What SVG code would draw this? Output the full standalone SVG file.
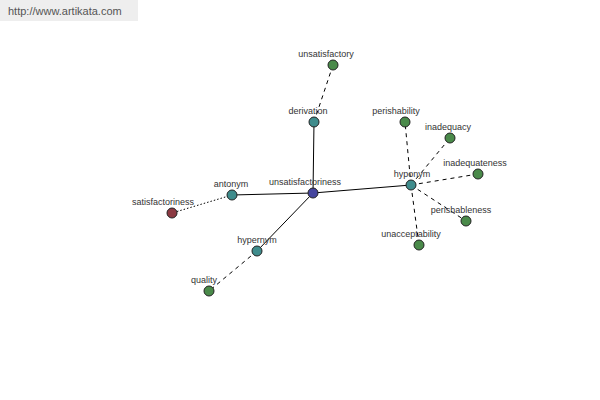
<svg xmlns="http://www.w3.org/2000/svg" width="600" height="400" viewBox="0 0 600 400">
<style>
.lbl{font-family:"Liberation Sans",Arial,sans-serif;font-size:9px;fill:#333;text-anchor:middle}
.n{stroke:#222;stroke-width:1}
.teal{fill:#3f8c8c}
.green{fill:#4a8a4a}
.solid{stroke:#000;stroke-width:1;fill:none}
.dash{stroke:#000;stroke-width:1;fill:none;stroke-dasharray:4,4}
.dot{stroke:#000;stroke-width:1;fill:none;stroke-dasharray:1.5,2}
</style>
<rect x="0" y="0" width="600" height="400" fill="#fff"/>
<rect x="0" y="0" width="138" height="21" fill="#eeeeee"/>
<text x="8" y="15" font-family="Liberation Sans,Arial,sans-serif" font-size="11" fill="#555">http://www.artikata.com</text>
<g id="connectors">
<line class="solid" x1="313" y1="193" x2="232" y2="195"/>
<line class="solid" x1="313" y1="193" x2="314" y2="122"/>
<line class="solid" x1="313" y1="193" x2="411" y2="185"/>
<line class="solid" x1="313" y1="193" x2="257" y2="251"/>
<line class="dot" x1="232" y1="195" x2="172" y2="213"/>
<line class="dash" x1="314" y1="122" x2="333" y2="65"/>
<line class="dash" x1="257" y1="251" x2="209" y2="291"/>
<line class="dash" x1="411" y1="185" x2="405" y2="122"/>
<line class="dash" x1="411" y1="185" x2="450" y2="138"/>
<line class="dash" x1="411" y1="185" x2="478" y2="174"/>
<line class="dash" x1="411" y1="185" x2="466" y2="221"/>
<line class="dash" x1="411" y1="185" x2="419" y2="245"/>
</g>
<g id="n-unsatisfactoriness"><circle class="n" cx="313" cy="193" r="5" fill="#45459e"/><text class="lbl" x="305" y="185">unsatisfactoriness</text></g>
<g id="n-antonym"><circle class="n teal" cx="232" cy="195" r="5"/><text class="lbl" x="231" y="187">antonym</text></g>
<g id="n-satisfactoriness"><circle class="n" cx="172" cy="213" r="5" fill="#8c3a42"/><text class="lbl" x="163" y="205">satisfactoriness</text></g>
<g id="n-derivation"><circle class="n teal" cx="314" cy="122" r="5"/><text class="lbl" x="308" y="114">derivation</text></g>
<g id="n-unsatisfactory"><circle class="n green" cx="333" cy="65" r="5"/><text class="lbl" x="326" y="57">unsatisfactory</text></g>
<g id="n-hyponym"><circle class="n teal" cx="411" cy="185" r="5"/><text class="lbl" x="412" y="177">hyponym</text></g>
<g id="n-perishability"><circle class="n green" cx="405" cy="122" r="5"/><text class="lbl" x="396" y="114">perishability</text></g>
<g id="n-inadequacy"><circle class="n green" cx="450" cy="138" r="5"/><text class="lbl" x="448" y="130">inadequacy</text></g>
<g id="n-inadequateness"><circle class="n green" cx="478" cy="174" r="5"/><text class="lbl" x="475" y="166">inadequateness</text></g>
<g id="n-perishableness"><circle class="n green" cx="466" cy="221" r="5"/><text class="lbl" x="461" y="213">perishableness</text></g>
<g id="n-unacceptability"><circle class="n green" cx="419" cy="245" r="5"/><text class="lbl" x="411" y="237">unacceptability</text></g>
<g id="n-hypernym"><circle class="n teal" cx="257" cy="251" r="5"/><text class="lbl" x="257" y="243">hypernym</text></g>
<g id="n-quality"><circle class="n green" cx="209" cy="291" r="5"/><text class="lbl" x="204" y="283">quality</text></g>
</svg>
